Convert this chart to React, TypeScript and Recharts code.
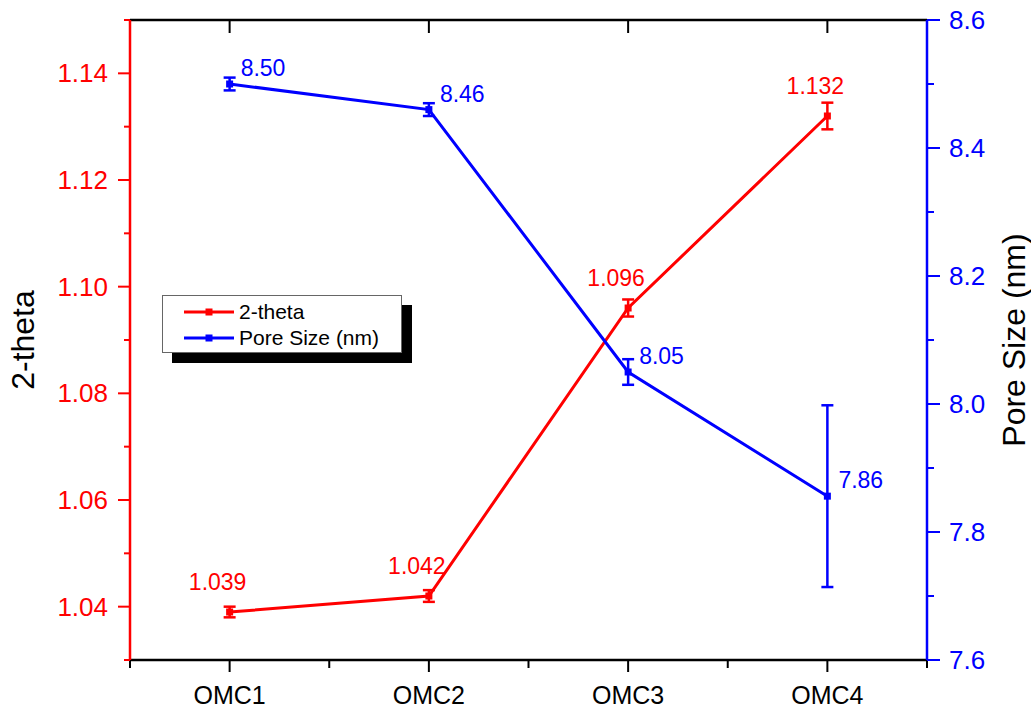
import React from 'react';
import { ComposedChart, Line, XAxis, YAxis, ErrorBar, LabelList, Legend, Label } from 'recharts';

if (typeof document !== 'undefined') document.body.style.margin = '0';

const categories = ['OMC1', 'OMC2', 'OMC3', 'OMC4'];
const thetaValues = [1.039, 1.042, 1.096, 1.132];
const thetaErrors = [0.001, 0.0011, 0.0016, 0.0025];
const poreValues = [8.5, 8.46, 8.05, 7.856];
const poreErrors = [0.01, 0.01, 0.02, 0.142];
const thetaTicks = [1.03, 1.04, 1.05, 1.06, 1.07, 1.08, 1.09, 1.1, 1.11, 1.12, 1.13, 1.14, 1.15];
const poreTicks = [7.6, 7.7, 7.8, 7.9, 8.0, 8.1, 8.2, 8.3, 8.4, 8.5, 8.6];

const data = categories.map((name, i) => ({
    name,
    theta: thetaValues[i],
    thetaErr: thetaErrors[i],
    pore: poreValues[i],
    poreErr: poreErrors[i],
}));

const RED = '#ff0000';
const BLUE = '#0000ff';
const FONT = '"Liberation Sans", Arial, sans-serif';
const W = 1031;
const H = 708;
const LEFT_W = 130;
const RIGHT_W = 104;
const PLOT_W = W - LEFT_W - RIGHT_W;
const BAND = PLOT_W / categories.length;

const LeftTick = (props: any) => {
    const { x, y, payload } = props;
    const major = Math.round(payload.value * 100) % 2 === 0;
    return (
        <g>
            <line x1={x} x2={x - (major ? 12 : 6)} y1={y} y2={y} stroke={RED} strokeWidth={2} />
            {major && (
                <text x={x - 22} y={y} textAnchor="end" dominantBaseline="central" fill={RED} fontSize={26} fontFamily={FONT}>
                    {payload.value.toFixed(2)}
                </text>
            )}
        </g>
    );
};

const RightTick = (props: any) => {
    const { x, y, payload } = props;
    const major = Math.round(payload.value * 10) % 2 === 0;
    return (
        <g>
            <line x1={x} x2={x + (major ? 13 : 7)} y1={y} y2={y} stroke={BLUE} strokeWidth={2} />
            {major && (
                <text x={x + 22} y={y} textAnchor="start" dominantBaseline="central" fill={BLUE} fontSize={26} fontFamily={FONT}>
                    {payload.value.toFixed(1)}
                </text>
            )}
        </g>
    );
};

const BottomTick = (props: any) => {
    const { x, y, payload } = props;
    const last = payload.value === categories[categories.length - 1];
    return (
        <g>
            <line x1={x} x2={x} y1={y} y2={y + 12} stroke="#000" strokeWidth={2} />
            <line x1={x - BAND / 2} x2={x - BAND / 2} y1={y} y2={y + 8} stroke="#000" strokeWidth={2} />
            {last && <line x1={x + BAND / 2} x2={x + BAND / 2} y1={y} y2={y + 8} stroke="#000" strokeWidth={2} />}
            <text x={x} y={y + 35} textAnchor="middle" dominantBaseline="central" fill="#000" fontSize={25} fontFamily={FONT}>
                {payload.value}
            </text>
        </g>
    );
};

const TopTick = (props: any) => {
    const { x, y } = props;
    return <line x1={x} x2={x} y1={y} y2={y + 13} stroke="#000" strokeWidth={2} />;
};

const squareDot = (color: string) => (p: any) => (
    <rect key={`dot-${p.index}`} x={p.cx - 3.5} y={p.cy - 3.5} width={7} height={7} fill={color} />
);

const thetaLabel = (p: any) => (
    <text key={`tl-${p.index}`} x={p.x - 12} y={p.y - 22} textAnchor="middle" fill={RED} fontSize={23} fontFamily={FONT}>
        {Number(p.value).toFixed(3)}
    </text>
);

const poreLabel = (p: any) => (
    <text key={`pl-${p.index}`} x={p.x + 11} y={p.y - 8} textAnchor="start" fill={BLUE} fontSize={23} fontFamily={FONT}>
        {Number(p.value).toFixed(2)}
    </text>
);

const legendItems = [
    { label: '2-theta', color: RED },
    { label: 'Pore Size (nm)', color: BLUE },
];

const LegendBox = () => (
    <div
        style={{
            width: 240,
            height: 58,
            boxSizing: 'border-box',
            background: '#fff',
            border: '1px solid #666',
            boxShadow: '10px 10px 0 #000',
            paddingTop: 3,
            fontFamily: FONT,
        }}
    >
        {legendItems.map((item) => (
            <div key={item.label} style={{ display: 'flex', alignItems: 'center', height: 26 }}>
                <svg width={76} height={12} style={{ flexShrink: 0 }}>
                    <line x1={21} x2={71} y1={6} y2={6} stroke={item.color} strokeWidth={3} />
                    <rect x={42.5} y={2.5} width={7} height={7} fill={item.color} />
                </svg>
                <span style={{ fontSize: 21, color: '#000', lineHeight: '26px' }}>{item.label}</span>
            </div>
        ))}
    </div>
);

const App: React.FC = () => {
    return (
        <div style={{ width: W, height: H, background: '#fff' }}>
            <ComposedChart width={W} height={H} data={data} margin={{ top: 0, right: 0, bottom: 0, left: 0 }}>
                <XAxis
                    dataKey="name"
                    scale="band"
                    height={48}
                    axisLine={{ stroke: '#000', strokeWidth: 2.5 }}
                    tickLine={false}
                    tickSize={0}
                    tickMargin={0}
                    tick={<BottomTick />}
                    interval={0}
                />
                <XAxis
                    xAxisId="top"
                    orientation="top"
                    dataKey="name"
                    scale="band"
                    height={20}
                    axisLine={{ stroke: '#000', strokeWidth: 2.5 }}
                    tickLine={false}
                    tickSize={0}
                    tickMargin={0}
                    tick={<TopTick />}
                    interval={0}
                />
                <YAxis
                    yAxisId="left"
                    width={LEFT_W}
                    domain={[1.03, 1.15]}
                    ticks={thetaTicks}
                    interval={0}
                    axisLine={{ stroke: RED, strokeWidth: 2.5 }}
                    tickLine={false}
                    tickSize={0}
                    tickMargin={0}
                    tick={<LeftTick />}
                    allowDataOverflow
                >
                    <Label
                        content={(p: any) => {
                            const vb = p.viewBox;
                            const cy = vb.y + vb.height / 2;
                            return (
                                <text x={23} y={cy} transform={`rotate(-90 23 ${cy})`} textAnchor="middle" dominantBaseline="central" fontSize={32} fontFamily={FONT} fill="#000">
                                    2-theta
                                </text>
                            );
                        }}
                    />
                </YAxis>
                <YAxis
                    yAxisId="right"
                    orientation="right"
                    width={RIGHT_W}
                    domain={[7.6, 8.6]}
                    ticks={poreTicks}
                    interval={0}
                    axisLine={{ stroke: BLUE, strokeWidth: 2.5 }}
                    tickLine={false}
                    tickSize={0}
                    tickMargin={0}
                    tick={<RightTick />}
                    allowDataOverflow
                >
                    <Label
                        content={(p: any) => {
                            const vb = p.viewBox;
                            const cy = vb.y + vb.height / 2;
                            return (
                                <text x={1014} y={cy} transform={`rotate(-90 1014 ${cy})`} textAnchor="middle" dominantBaseline="central" fontSize={32} fontFamily={FONT} fill="#000">
                                    Pore Size (nm)
                                </text>
                            );
                        }}
                    />
                </YAxis>
                <Legend
                    layout="vertical"
                    align="center"
                    verticalAlign="middle"
                    wrapperStyle={{ left: 162, top: 295, width: 240 }}
                    content={() => <LegendBox />}
                />
                <Line
                    yAxisId="left"
                    dataKey="theta"
                    stroke={RED}
                    strokeWidth={3}
                    dot={squareDot(RED)}
                    activeDot={false}
                    isAnimationActive={false}
                >
                    <ErrorBar dataKey="thetaErr" direction="y" width={6} stroke={RED} strokeWidth={2.5} isAnimationActive={false} />
                    <LabelList dataKey="theta" content={thetaLabel} />
                </Line>
                <Line
                    yAxisId="right"
                    dataKey="pore"
                    stroke={BLUE}
                    strokeWidth={3}
                    dot={squareDot(BLUE)}
                    activeDot={false}
                    isAnimationActive={false}
                >
                    <ErrorBar dataKey="poreErr" direction="y" width={6} stroke={BLUE} strokeWidth={2.5} isAnimationActive={false} />
                    <LabelList dataKey="pore" content={poreLabel} />
                </Line>
            </ComposedChart>
        </div>
    );
};

export default App;
